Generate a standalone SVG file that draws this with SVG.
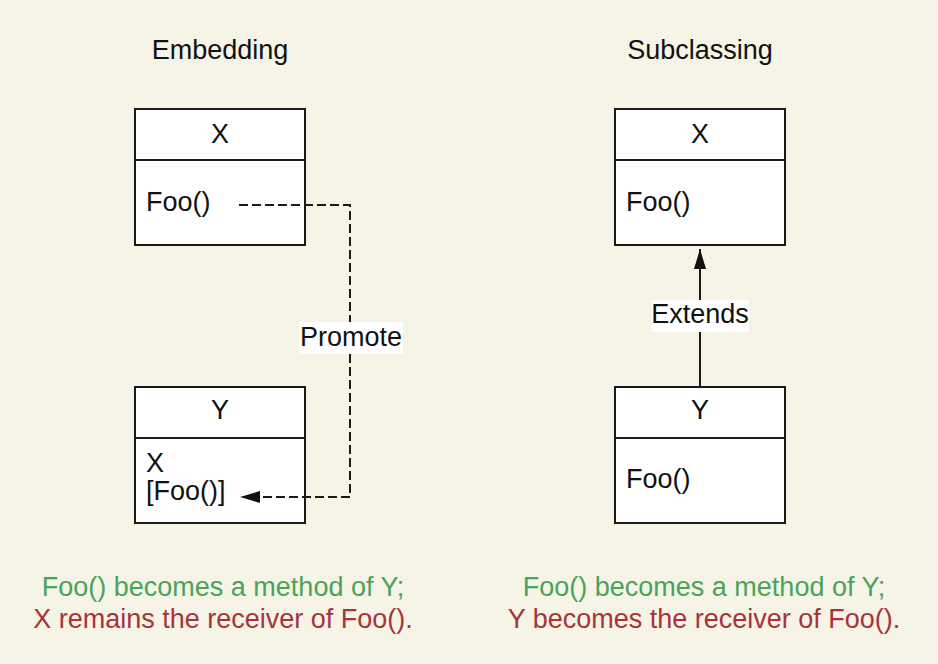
<svg xmlns="http://www.w3.org/2000/svg" width="938" height="664" viewBox="0 0 938 664">
<defs>
<style>
text{font-family:"Liberation Sans",Arial,Helvetica,sans-serif;font-size:27px;fill:#111}
.c{text-anchor:middle}
.box{fill:#fff;stroke:#1a1a1a;stroke-width:2}
.div{stroke:#1a1a1a;stroke-width:2}
.green{fill:#4ba35a}
.red{fill:#a8343a}
.conn{fill:none;stroke:#1a1a1a;stroke-width:2}
.dash{stroke-dasharray:9 4}
.lbl{fill:#fff}
</style>
<marker id="ah" viewBox="0 0 20 12" refX="20" refY="6" markerWidth="20" markerHeight="12" markerUnits="userSpaceOnUse" orient="auto">
<path d="M0,0 L20,6 L0,12 Z" fill="#111"/>
</marker>
</defs>
<rect width="938" height="664" fill="#f6f3e7"/>
<text class="c" x="220" y="59">Embedding</text>
<text class="c" x="700" y="59">Subclassing</text>
<g id="embX">
<rect class="box" x="135" y="109" width="170" height="136"/>
<line class="div" x1="135" y1="160" x2="305" y2="160"/>
<text class="c" x="220" y="143">X</text>
<text x="146" y="211">Foo()</text>
</g>
<g id="embY">
<rect class="box" x="135" y="387" width="170" height="136"/>
<line class="div" x1="135" y1="438" x2="305" y2="438"/>
<text class="c" x="220" y="419">Y</text>
<text x="146" y="472">X</text>
<text x="146" y="500">[Foo()]</text>
</g>
<g id="subX">
<rect class="box" x="615" y="109" width="170" height="136"/>
<line class="div" x1="615" y1="160" x2="785" y2="160"/>
<text class="c" x="700" y="143">X</text>
<text x="626" y="211">Foo()</text>
</g>
<g id="subY">
<rect class="box" x="615" y="387" width="170" height="136"/>
<line class="div" x1="615" y1="438" x2="785" y2="438"/>
<text class="c" x="700" y="419">Y</text>
<text x="626" y="488">Foo()</text>
</g>
<g id="connectors">
<path class="conn dash" d="M239,205 H350 V497 H258"/>
<path d="M260,491 L240,497 L260,503 Z" fill="#111"/>
<rect class="lbl" x="299" y="322" width="104" height="32"/>
<text class="c" x="351" y="346">Promote</text>
<line class="conn" x1="700" y1="386" x2="700" y2="249" marker-end="url(#ah)"/>
<rect class="lbl" x="652" y="300" width="97" height="32"/>
<text class="c" x="700" y="323">Extends</text>
</g>
<text class="c green" x="223" y="596">Foo() becomes a method of Y;</text>
<text class="c red" x="223" y="628">X remains the receiver of Foo().</text>
<text class="c green" x="704" y="596">Foo() becomes a method of Y;</text>
<text class="c red" x="704" y="628">Y becomes the receiver of Foo().</text>
</svg>
